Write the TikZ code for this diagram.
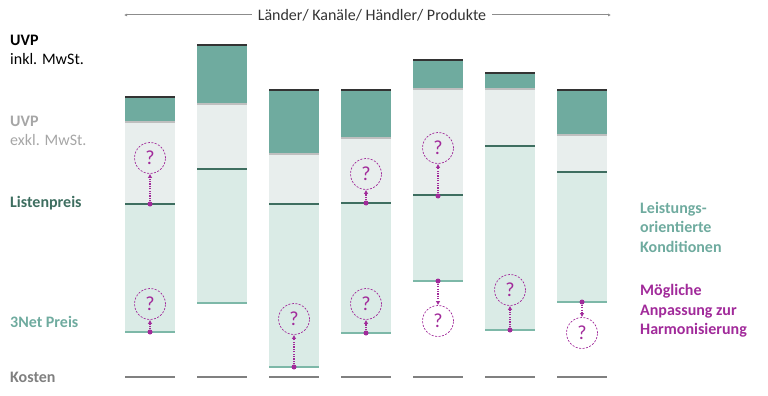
\documentclass[tikz,border=0pt]{standalone}
\usepackage{fontspec}
\setmainfont{Carlito}
\usetikzlibrary{arrows.meta}
\definecolor{kond}{HTML}{6FAB9F}
\definecolor{uvpgrey}{HTML}{E8EEED}
\definecolor{netfill}{HTML}{DAEBE6}
\definecolor{listline}{HTML}{3E6E60}
\definecolor{netline}{HTML}{7DB8A8}
\definecolor{harm}{HTML}{A12A9A}
\definecolor{kostgrey}{HTML}{808080}
\definecolor{exklgrey}{HTML}{A6A6A6}
\tikzset{ q/.style = { circle
                     , draw = harm
                     , dash pattern = on 2pt off 1.5pt
                     , line width   = 0.7pt
                     , text         = harm
                     , inner sep    = 0pt
                     , minimum size = 31pt
                     , font = \fontsize{20}{22}\selectfont
                     },
          dot/.style = { circle
                       , fill = harm
                       , inner sep    = 0pt
                       , minimum size = 5pt
                       },
          adj/.style = { draw = harm
                       , line width = 1.3pt
                       , dash pattern = on 1.2pt off 1.2pt
                       , -{Latex[length=4pt,width=4.5pt]}
                       },
          lab/.style = { anchor = west
                       , align  = left
                       , inner sep = 0pt
                       , font = \fontsize{16}{19.5}\selectfont
                       }
        }
\begin{document}
\begin{tikzpicture}[x=1pt,y=-1pt]
\useasboundingbox (0,0) rectangle (768,396);

% axis on top
\node[font=\fontsize{16}{19}\selectfont, text=black!80, inner sep=6pt] (axis) at (372,15) {Länder/ Kanäle/ Händler/ Produkte};
\coordinate (al) at (124,15);
\coordinate (ar) at (611,15);
\draw[black!45, line width=1pt, -{Latex[length=3pt,width=3pt]}] (axis.west) -- (al);
\draw[black!45, line width=1pt, -{Latex[length=3pt,width=3pt]}] (axis.east) -- (ar);

% bars: centre / top / end of MwSt. / Listenpreis / 3Net Preis
\foreach \c/\t/\a/\b/\n in {150/97/122/204/332, 222/45/104/169/303, 294/90/154/204/367,
                            366/90/138/203/333, 438/60/89/195/281, 510/73/89/146/330,
                            582/90/135/172/302}
{
  \fill[kond]    (\c-25,\t) rectangle (\c+25,\a);
  \fill[uvpgrey] (\c-25,\a) rectangle (\c+25,\b);
  \fill[netfill] (\c-25,\b) rectangle (\c+25,\n);
  \draw[black!80, line width=2pt]     (\c-25,\t) -- (\c+25,\t);
  \draw[black!25, line width=1.5pt]   (\c-25,\a) -- (\c+25,\a);
  \draw[listline, line width=1.5pt]   (\c-25,\b) -- (\c+25,\b);
  \draw[netline, line width=1.5pt]    (\c-25,\n) -- (\c+25,\n);
  \draw[kostgrey, line width=1.5pt]   (\c-25,377) -- (\c+25,377);
}

% left labels
\node[lab] (uvpin) at (10,50) {\textbf{UVP}\\inkl. MwSt.};
\node[lab, text=exklgrey] (uvpex) at (10,131) {\textbf{UVP}\\exkl. MwSt.};
\node[lab, text=listline, font=\fontsize{16}{19.5}\selectfont\bfseries] (liste) at (10,203) {Listenpreis};
\node[lab, text=kond, font=\fontsize{16}{19.5}\selectfont\bfseries] (net) at (10,322) {3Net Preis};
\node[lab, text=kostgrey, font=\fontsize{16}{19.5}\selectfont\bfseries] (kost) at (10,377) {Kosten};

% right labels
\node[lab, text=kond, font=\fontsize{16}{19.5}\selectfont\bfseries] (lok) at (640,227) {Leistungs-\\orientierte\\Konditionen};
\node[lab, text=harm, font=\fontsize{16}{19.5}\selectfont\bfseries] (anp) at (640,311) {Mögliche\\Anpassung zur\\Harmonisierung};

% possible adjustments
\node[q] (q1) at (150,158) {?};
\node[q] (q2) at (150,304) {?};
\node[q] (q3) at (294,319) {?};
\node[q] (q4) at (366,174) {?};
\node[q] (q5) at (366,304) {?};
\node[q] (q6) at (438,148) {?};
\node[q] (q7) at (438,321) {?};
\node[q] (q8) at (510,290) {?};
\node[q] (q9) at (582,333) {?};
\node[dot] (d1) at (150,204) {};
\node[dot] (d2) at (150,332) {};
\node[dot] (d3) at (294,367) {};
\node[dot] (d4) at (366,203) {};
\node[dot] (d5) at (366,333) {};
\node[dot] (d6) at (438,196) {};
\node[dot] (d7) at (438,281) {};
\node[dot] (d8) at (510,330) {};
\node[dot] (d9) at (582,302) {};
\foreach \i in {1,...,9}
  \path[adj] (d\i) -- (q\i);
\end{tikzpicture}
\end{document}
